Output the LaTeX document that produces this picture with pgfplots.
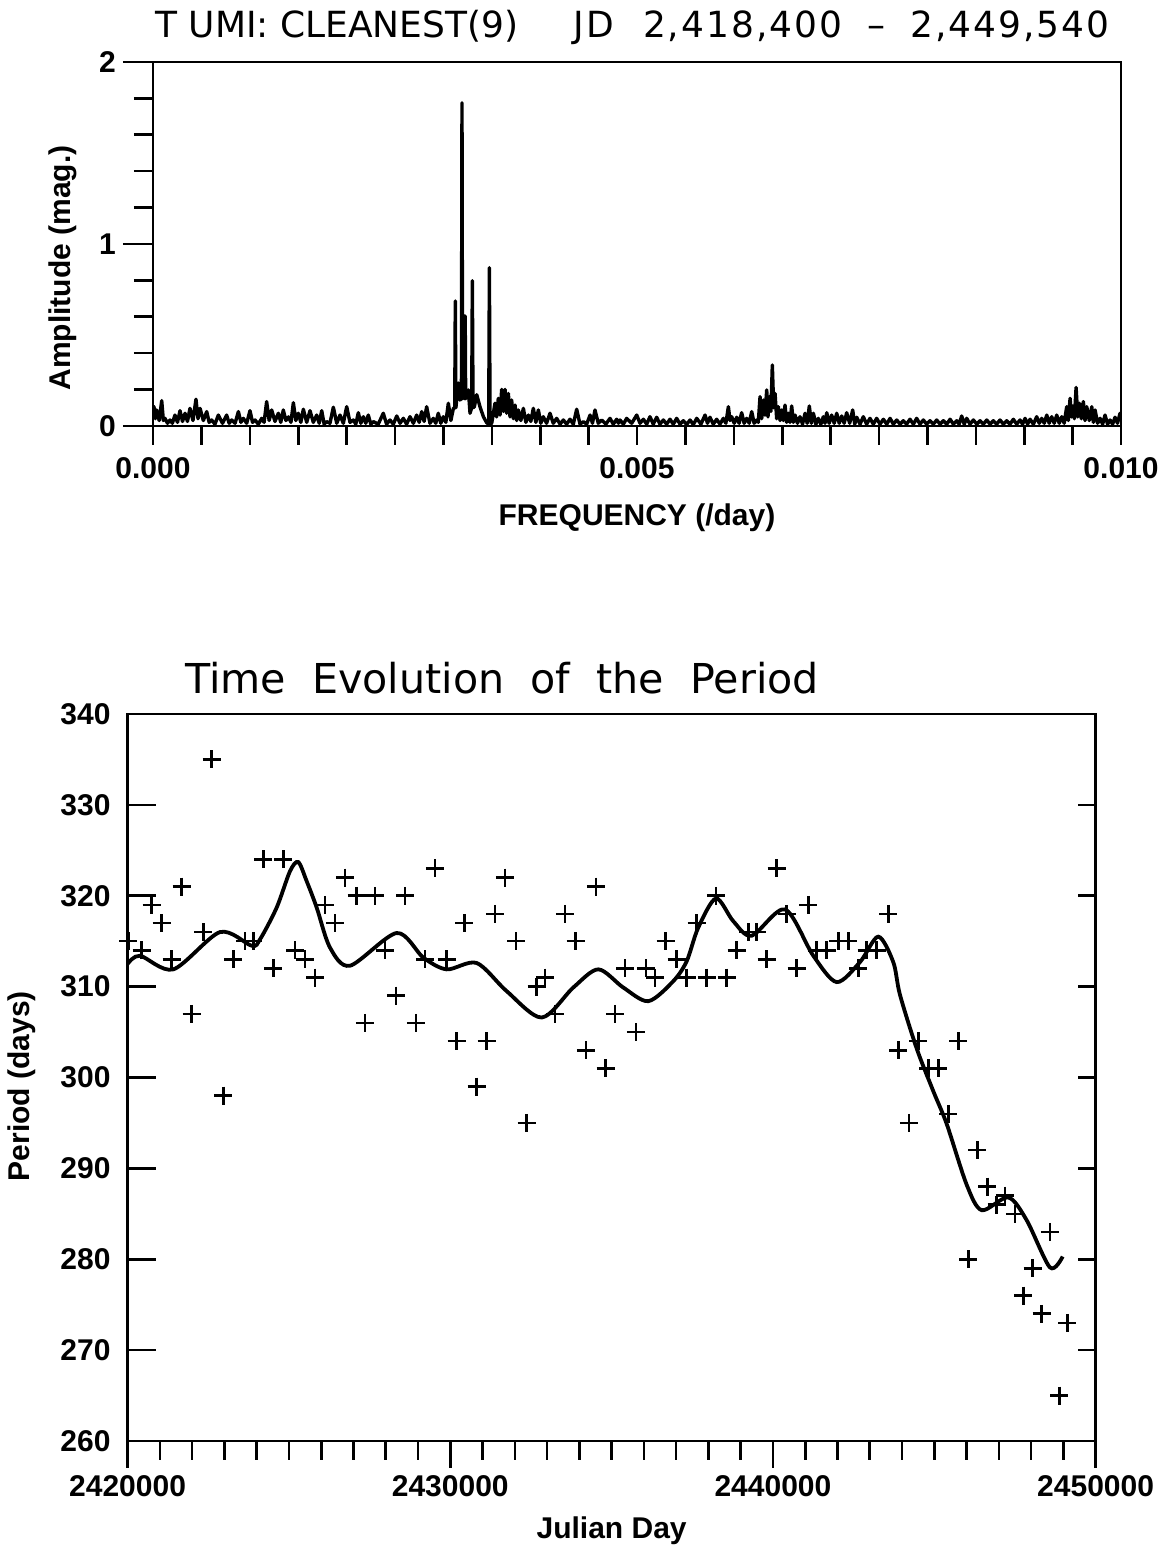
\documentclass[border=0pt]{standalone}
\usepackage{fontspec}
\setmainfont{Liberation Sans}
\newfontfamily\dv{DejaVu Sans}
\newfontfamily\dvls{DejaVu Sans}[LetterSpace=5.5]
\usepackage{pgfplots}
\pgfplotsset{compat=1.18}
\begin{document}
\begin{tikzpicture}
\path[use as bounding box] (0,0) rectangle (582pt,-775pt);
\pgfplotsset{
  every tick/.style={black, line width=1.3pt},
  tick label style={font=\fontsize{15}{18}\selectfont\bfseries},
  label style={font=\fontsize{15}{18}\selectfont\bfseries},
  /pgf/number format/assume math mode=true,
  scaled x ticks=false, scaled y ticks=false,
}
% ---------------- top: CLEAN spectrum ----------------
\begin{axis}[
  at={(76.5pt,-31pt)}, anchor=north west,
  scale only axis, width=484pt, height=182pt,
  xmin=0, xmax=0.01, ymin=0, ymax=2,
  axis line style={line width=1.3pt},
  tick align=outside,
  major tick length=15pt, minor tick length=9.5pt,
  ytick={0,1,2}, minor y tick num=4, ytick pos=left,
  xtick={0,0.005,0.01}, xticklabels={0.000,0.005,0.010},
  major x tick style={draw=none},
  minor xtick={0,0.0005,0.001,0.0015,0.002,0.0025,0.003,0.0035,0.004,0.0045,0.005,0.0055,0.006,0.0065,0.007,0.0075,0.008,0.0085,0.009,0.0095,0.01},
  xtick pos=bottom,
  xticklabel style={yshift=3pt},
  xlabel={FREQUENCY (/day)},
  ylabel={Amplitude (mag.)},
  xlabel style={at={(axis description cs:0.5,-0.2527)}, anchor=center},
  ylabel style={at={(axis description cs:-0.093,0.434)}, anchor=center},
  clip=true,
]
\addplot[black, line width=1.7pt, line join=round] coordinates {
(0,0.100) (0.000010,0.106) (0.000024,0.040) (0.000038,0.088) (0.000064,0.030) (0.000090,0.139)
(0.000107,0.030) (0.000124,0.042) (0.000150,0.015) (0.000176,0.033) (0.000200,0.015) (0.000227,0.060)
(0.000253,0.020) (0.000279,0.084) (0.000305,0.025) (0.000331,0.070) (0.000356,0.025) (0.000382,0.097)
(0.000413,0.030) (0.000444,0.147) (0.000465,0.040) (0.000486,0.097) (0.000520,0.030) (0.000555,0.079)
(0.000580,0.020) (0.000606,0.033) (0.000640,0.010) (0.000675,0.060) (0.000718,0.015) (0.000761,0.060)
(0.000787,0.015) (0.000813,0.033) (0.000848,0.015) (0.000882,0.079) (0.000908,0.020) (0.000933,0.042)
(0.000968,0.015) (0.001002,0.084) (0.001028,0.020) (0.001054,0.033) (0.001088,0.010) (0.001123,0.042)
(0.001148,0.020) (0.001174,0.134) (0.001200,0.030) (0.001226,0.088) (0.001260,0.025) (0.001295,0.070)
(0.001320,0.020) (0.001346,0.088) (0.001373,0.030) (0.001400,0.050) (0.001425,0.020) (0.001450,0.128)
(0.001475,0.030) (0.001501,0.070) (0.001527,0.020) (0.001553,0.092) (0.001588,0.020) (0.001622,0.084)
(0.001656,0.020) (0.001691,0.060) (0.001717,0.015) (0.001743,0.084) (0.001768,0.010) (0.001794,0.024)
(0.001828,0.015) (0.001863,0.103) (0.001898,0.015) (0.001932,0.060) (0.001966,0.015) (0.002001,0.106)
(0.002035,0.020) (0.002070,0.033) (0.002095,0.010) (0.002121,0.073) (0.002147,0.015) (0.002173,0.051)
(0.002198,0.015) (0.002224,0.060) (0.002250,0.010) (0.002276,0.024) (0.002327,0.010) (0.002379,0.070)
(0.002413,0.010) (0.002448,0.033) (0.002483,0.010) (0.002518,0.055) (0.002552,0.015) (0.002586,0.042)
(0.002620,0.010) (0.002655,0.051) (0.002690,0.015) (0.002724,0.060) (0.002750,0.020) (0.002776,0.079)
(0.002801,0.025) (0.002827,0.106) (0.002861,0.015) (0.002896,0.042) (0.002921,0.015) (0.002947,0.070)
(0.002973,0.015) (0.002999,0.051) (0.003025,0.020) (0.003051,0.125) (0.003077,0.030) (0.003103,0.097)
(0.003117,0.100) (0.003123,0.687) (0.003129,0.100) (0.003154,0.236) (0.003172,0.143)
(0.003186,0.150) (0.003192,1.776) (0.003198,0.150) (0.003212,0.200) (0.003216,0.150)
(0.003219,0.604) (0.003225,0.604) (0.003230,0.150) (0.003258,0.198) (0.003275,0.070)
(0.003292,0.100) (0.003299,0.798) (0.003306,0.100) (0.003320,0.106) (0.003344,0.172)
(0.003378,0.106) (0.003413,0.051) (0.003447,0.018) (0.003468,0.010) (0.003475,0.870)
(0.003482,0.010) (0.003499,0.015)
(0.003533,0.125) (0.003550,0.050) (0.003567,0.152) (0.003585,0.060) (0.003602,0.201) (0.003620,0.080)
(0.003637,0.201) (0.003654,0.070) (0.003671,0.179) (0.003688,0.050) (0.003705,0.143) (0.003722,0.040)
(0.003740,0.115) (0.003757,0.030) (0.003774,0.088) (0.003800,0.030) (0.003826,0.097) (0.003852,0.020)
(0.003878,0.060) (0.003903,0.025) (0.003929,0.097) (0.003955,0.020) (0.003981,0.088) (0.004006,0.015)
(0.004032,0.051) (0.004066,0.015) (0.004101,0.070) (0.004135,0.015) (0.004170,0.042) (0.004205,0.010)
(0.004239,0.033) (0.004273,0.010) (0.004308,0.037) (0.004342,0.010) (0.004377,0.092) (0.004411,0.010)
(0.004446,0.024) (0.004480,0.010) (0.004515,0.060) (0.004540,0.015) (0.004566,0.088) (0.004600,0.015)
(0.004635,0.033) (0.004678,0.010) (0.004721,0.042) (0.004755,0.010) (0.004790,0.037) (0.004808,0.015)
(0.004825,0.033) (0.004859,0.010) (0.004893,0.042) (0.004945,0.015) (0.004997,0.060) (0.005031,0.015)
(0.005066,0.037) (0.005100,0.010) (0.005134,0.051) (0.005168,0.010) (0.005203,0.048) (0.005237,0.010)
(0.005272,0.033) (0.005306,0.010) (0.005341,0.037) (0.005375,0.010) (0.005410,0.042) (0.005444,0.010)
(0.005479,0.029) (0.005513,0.008) (0.005548,0.033) (0.005582,0.008) (0.005617,0.042) (0.005660,0.010)
(0.005703,0.060) (0.005728,0.015) (0.005754,0.048) (0.005788,0.010) (0.005823,0.037) (0.005857,0.010)
(0.005892,0.042) (0.005918,0.015) (0.005944,0.106) (0.005961,0.030) (0.005978,0.051) (0.006004,0.015)
(0.006030,0.048) (0.006055,0.015) (0.006081,0.073) (0.006107,0.015) (0.006133,0.042) (0.006159,0.015)
(0.006185,0.079) (0.006210,0.015) (0.006236,0.033) (0.006253,0.020) (0.006271,0.161) (0.006288,0.040)
(0.006305,0.143) (0.006322,0.060) (0.006340,0.198) (0.006353,0.050) (0.006367,0.161) (0.006383,0.080)
(0.006398,0.335) (0.006412,0.100) (0.006426,0.179) (0.006443,0.040) (0.006460,0.106) (0.006478,0.030)
(0.006495,0.088) (0.006512,0.030) (0.006529,0.115) (0.006546,0.020) (0.006563,0.070) (0.006580,0.020)
(0.006598,0.110) (0.006615,0.020) (0.006633,0.060) (0.006658,0.015) (0.006684,0.051) (0.006710,0.010)
(0.006736,0.070) (0.006758,0.015) (0.006780,0.110) (0.006801,0.015) (0.006822,0.070) (0.006848,0.010)
(0.006873,0.042) (0.006899,0.010) (0.006925,0.051) (0.006942,0.015) (0.006960,0.073) (0.006985,0.015)
(0.007011,0.060) (0.007037,0.015) (0.007063,0.070) (0.007089,0.015) (0.007115,0.055) (0.007140,0.015)
(0.007166,0.073) (0.007197,0.015) (0.007228,0.088) (0.007249,0.010) (0.007270,0.048) (0.007304,0.010)
(0.007338,0.051) (0.007372,0.010) (0.007407,0.042) (0.007441,0.010) (0.007476,0.042) (0.007510,0.010)
(0.007545,0.037) (0.007580,0.010) (0.007614,0.042) (0.007648,0.010) (0.007683,0.033) (0.007717,0.010)
(0.007751,0.029) (0.007785,0.010) (0.007820,0.037) (0.007855,0.010) (0.007889,0.042) (0.007923,0.010)
(0.007958,0.033) (0.007992,0.010) (0.008027,0.029) (0.008061,0.010) (0.008096,0.033) (0.008130,0.010)
(0.008165,0.029) (0.008200,0.010) (0.008234,0.037) (0.008268,0.010) (0.008303,0.029) (0.008328,0.010)
(0.008354,0.055) (0.008380,0.010) (0.008406,0.042) (0.008440,0.010) (0.008475,0.033) (0.008510,0.010)
(0.008544,0.029) (0.008578,0.010) (0.008613,0.033) (0.008647,0.010) (0.008681,0.029) (0.008715,0.010)
(0.008750,0.033) (0.008785,0.010) (0.008819,0.029) (0.008853,0.010) (0.008888,0.037) (0.008922,0.010)
(0.008957,0.033) (0.008983,0.010) (0.009009,0.042) (0.009035,0.010) (0.009060,0.037) (0.009095,0.010)
(0.009129,0.051) (0.009155,0.015) (0.009181,0.042) (0.009207,0.015) (0.009233,0.060) (0.009258,0.015)
(0.009284,0.051) (0.009310,0.015) (0.009336,0.060) (0.009362,0.015) (0.009388,0.051) (0.009413,0.015)
(0.009439,0.106) (0.009456,0.030) (0.009474,0.152) (0.009488,0.050) (0.009501,0.110) (0.009518,0.040)
(0.009536,0.212) (0.009553,0.050) (0.009570,0.125) (0.009590,0.040) (0.009611,0.134) (0.009628,0.030)
(0.009646,0.106) (0.009672,0.030) (0.009698,0.106) (0.009715,0.020) (0.009732,0.088) (0.009758,0.015)
(0.009784,0.042) (0.009810,0.010) (0.009835,0.060) (0.009861,0.010) (0.009887,0.033) (0.009913,0.010)
(0.009938,0.048) (0.009964,0.015) (0.009990,0.070) (0.010000,0.070)
};
\end{axis}
% ---------------- bottom: period evolution ----------------
\begin{axis}[
  at={(63.8pt,-357pt)}, anchor=north west,
  scale only axis, width=484pt, height=363.5pt,
  xmin=2420000, xmax=2450000, ymin=260, ymax=340,
  axis line style={line width=1.3pt},
  tick align=inside, major tick length=14pt,
  ytick={260,270,280,290,300,310,320,330,340}, ytick pos=left,
  xtick={2420000,2430000,2440000,2450000},
  xticklabels={2420000,2430000,2440000,2450000},
  major x tick style={draw=none}, xtick pos=bottom,
  xticklabel style={yshift=-13.5pt},
  yticklabel style={xshift=-5pt},
  xlabel={Julian Day},
  ylabel={Period (days)},
  xlabel style={at={(axis description cs:0.5,-0.1238)}, anchor=center},
  ylabel style={at={(axis description cs:-0.1094,0.488)}, anchor=center},
  clip=false,
]
\addplot[black, only marks, mark=+, mark size=4.5pt, mark options={line width=1.3pt}] coordinates {
(2420022,315) (2420437,314) (2420747,319) (2421057,317) (2421367,313) (2421677,321)
(2421986,307) (2422346,316) (2422606,335) (2422966,298) (2423276,313) (2423638,315)
(2423895,315) (2424205,324) (2424515,312) (2424825,324) (2425188,314) (2425498,313)
(2425808,311) (2426117,319) (2426427,317) (2426737,322) (2427100,320) (2427357,306)
(2427667,320) (2427977,314) (2428318,309) (2428597,320) (2428937,306) (2429216,313)
(2429526,323) (2429889,313) (2430199,304) (2430440,317) (2430819,299) (2431129,304)
(2431386,318) (2431696,322) (2432037,315) (2432368,295) (2432678,310) (2432935,311)
(2433245,307) (2433555,318) (2433887,315) (2434206,303) (2434516,321) (2434816,301)
(2435105,307) (2435415,312) (2435755,305) (2436065,312) (2436344,311) (2436676,315)
(2437017,313) (2437327,311) (2437636,317) (2437946,311) (2438235,320) (2438566,311)
(2438876,314) (2439235,316) (2439496,316) (2439806,313) (2440116,323) (2440425,318)
(2440735,312) (2441095,319) (2441355,314) (2441665,314) (2442025,315) (2442335,315)
(2442645,312) (2442905,314) (2443215,314) (2443574,318) (2443884,303) (2444216,295)
(2444504,304) (2444814,301) (2445124,301) (2445433,296) (2445743,304) (2446053,280)
(2446332,292) (2446642,288) (2446933,286) (2447191,287) (2447500,285) (2447758,276)
(2448049,279) (2448328,274) (2448585,283) (2448873,265) (2449121,273)
};
\addplot[black, line width=1.9pt, smooth, tension=0.5] coordinates {
(2420000,312.5) (2420384,313.4) (2421416,311.9) (2422863,316.0) (2423846,314.5)
(2424103,315.2) (2424620,318.7) (2425033,322.7) (2425290,323.7) (2425550,321.6)
(2425860,318.7) (2426272,314.3) (2426892,312.3) (2428340,315.9) (2429164,313.2)
(2429889,311.9) (2430819,312.6) (2431748,309.5) (2432833,306.6) (2433812,309.9)
(2434587,311.9) (2435362,309.9) (2436137,308.4) (2436911,310.6) (2437327,312.8)
(2437686,316.5) (2438235,319.7) (2438771,317.2) (2439341,315.6) (2440373,318.5)
(2441250,313.4) (2441975,310.5) (2442697,312.7) (2443264,315.5) (2443729,312.7)
(2443937,309.1) (2444454,303.2) (2444969,298.5) (2445384,294.9) (2446004,288.2)
(2446469,285.4) (2447293,286.8) (2447863,284.3) (2448585,279.1) (2448979,280.3)
};
\end{axis}
% right-hand y ticks (shorter)
\begin{axis}[
  at={(63.8pt,-357pt)}, anchor=north west,
  scale only axis, width=484pt, height=363.5pt,
  xmin=2420000, xmax=2450000, ymin=260, ymax=340,
  axis line style={draw=none},
  tick align=inside, major tick length=9pt,
  ytick={260,270,280,290,300,310,320,330,340}, ytick pos=right,
  yticklabels={}, xtick=\empty,
]
\end{axis}
% x ticks (outside)
\begin{axis}[
  at={(63.8pt,-357pt)}, anchor=north west,
  scale only axis, width=484pt, height=363.5pt,
  xmin=2420000, xmax=2450000, ymin=260, ymax=340,
  axis line style={draw=none},
  tick align=outside, major tick length=13.5pt, minor tick length=9.5pt,
  xtick={2420000,2430000,2440000,2450000}, minor x tick num=9,
  xtick pos=bottom, xticklabels={}, ytick=\empty,
]
\end{axis}
% titles
\node[anchor=base west, font=\dv\fontsize{18}{20}\selectfont, inner sep=0pt] at (77.5pt,-19pt) {T UMI: CLEANEST(9)};
\node[anchor=base east, font=\dvls\fontsize{18}{20}\selectfont, inner sep=0pt] at (555pt,-19pt) {JD\hspace{0.8em}2,418,400\hspace{0.7em}–\hspace{0.7em}2,449,540};
\node[anchor=base, font=\dv\fontsize{20.6}{24}\selectfont, inner sep=0pt] at (251pt,-346.5pt) {Time\ \ Evolution\ \ of\ \ the\ \ Period};
\end{tikzpicture}
\end{document}
